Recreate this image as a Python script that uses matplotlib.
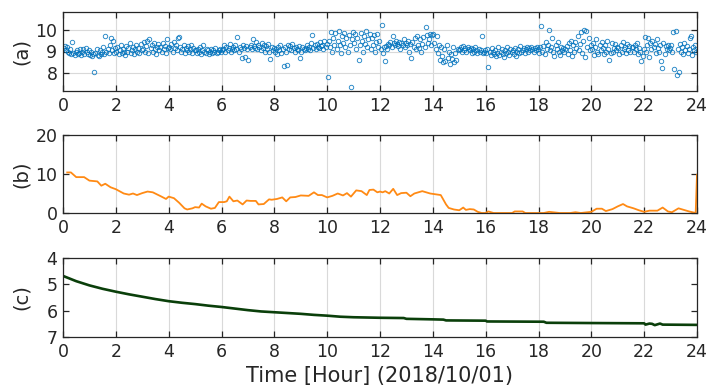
import numpy as np
import matplotlib
matplotlib.use("Agg")
import matplotlib.pyplot as plt

plt.rcParams['font.family'] = ['DejaVu Sans', 'Noto Sans CJK JP']

# ---- (a) scatter: 24 samples per hour ----
a_h00 = [9.15,9.25,9.05,9.2,9.0,8.95,9.1,8.9,9.45,8.95,8.85,9.0,9.05,8.9,8.95,9.1,8.85,9.0,9.1,8.9,9.15,9.0,8.9,9.05]
a_h01 = [8.85,9.0,8.8,8.9,8.05,8.95,9.1,8.85,8.8,9.05,8.9,9.0,9.2,8.9,9.7,9.0,9.1,8.95,9.3,9.6,9.05,9.5,8.95,9.15]
a_h02 = [9.0,9.2,8.9,9.05,9.3,8.95,9.1,9.0,8.85,9.25,9.0,9.15,9.4,8.95,9.05,9.2,8.9,9.1,9.3,9.0,9.15,8.95,9.35,9.05]
a_h03 = [9.1,9.45,9.0,9.25,9.5,8.95,9.55,9.15,9.3,9.0,9.4,9.1,8.9,9.2,9.35,9.05,9.2,9.0,9.4,9.1,9.25,8.95,9.55,9.15]
a_h04 = [9.2,9.1,9.35,9.0,9.45,9.15,9.3,9.05,9.6,9.65,9.2,9.0,9.1,9.3,8.95,9.15,9.05,9.25,9.0,9.1,9.3,8.95,9.15,9.05]
a_h05 = [9.05,8.95,9.1,9.0,9.2,8.9,9.05,9.3,9.0,8.95,9.1,9.05,8.9,9.0,9.1,8.95,9.05,9.0,9.15,8.95,9.0,9.05,9.1,9.0]
a_h06 = [9.05,9.1,9.3,9.0,9.2,9.05,9.15,9.35,9.0,9.1,9.2,9.05,9.3,9.1,9.65,9.0,9.2,9.1,8.7,9.3,9.15,8.75,9.25,9.1]
a_h07 = [8.6,9.2,9.3,9.1,9.55,9.25,9.15,9.45,9.1,9.3,9.2,9.05,9.4,9.15,9.3,9.0,9.25,9.1,9.35,9.0,8.65,9.2,9.05,9.15]
a_h08 = [9.0,9.1,8.9,9.2,9.05,9.3,8.95,9.1,8.35,9.2,9.0,8.4,9.3,9.1,9.25,9.05,9.35,9.15,9.0,9.2,9.1,9.05,9.25,8.7]
a_h09 = [9.0,9.2,9.1,9.05,9.15,9.3,9.1,9.2,9.05,9.4,9.75,9.15,9.3,9.1,9.35,9.2,9.15,9.45,9.25,9.3,9.1,9.5,9.2,9.35]
a_h10 = [7.85,9.5,9.2,9.9,9.0,9.6,9.3,9.85,9.1,9.5,9.95,9.3,8.95,9.7,9.4,9.85,9.2,9.6,9.0,9.75,9.3,7.4,9.55,9.9]
a_h11 = [9.4,9.8,9.1,9.6,8.6,9.3,9.85,9.5,9.0,9.7,9.35,9.95,9.2,9.55,9.8,9.1,9.6,9.3,9.75,9.0,9.45,9.8,9.2,9.5]
a_h12 = [9.1,10.2,8.95,9.2,8.55,9.25,9.1,9.35,9.3,9.45,9.2,9.7,9.4,9.3,9.5,9.35,9.25,9.45,9.1,9.4,9.3,9.55,9.2,9.4]
a_h13 = [9.3,9.5,9.0,9.35,8.7,9.45,9.2,9.6,9.1,9.7,9.3,9.15,9.55,9.0,9.35,9.65,9.2,10.1,9.75,9.4,9.55,9.8,9.3,9.75]
a_h14 = [9.8,9.4,9.1,9.7,8.95,9.3,8.6,9.2,8.8,8.5,9.1,8.55,9.3,8.7,9.0,8.45,8.9,8.65,9.2,8.5,8.95,8.6,9.1,9.05]
a_h15 = [9.1,9.2,9.0,9.25,9.05,9.15,9.0,9.2,9.1,9.05,9.15,8.95,9.1,9.0,9.2,9.05,8.95,9.1,9.0,9.05,9.7,8.95,9.0,9.05]
a_h16 = [8.95,9.1,8.3,9.0,8.85,9.15,9.0,8.9,9.05,8.8,8.95,9.2,8.85,9.0,9.1,8.9,8.75,9.05,8.95,9.2,9.0,8.85,9.1,9.0]
a_h17 = [9.05,8.9,9.15,8.8,9.0,9.1,8.95,9.25,9.0,9.05,9.15,8.95,9.1,9.2,9.0,9.15,9.05,9.2,9.1,9.0,9.15,9.05,9.2,9.1]
a_h18 = [8.95,9.2,10.15,9.0,9.25,8.9,9.45,9.1,9.3,10.0,9.05,9.2,9.6,9.0,8.8,9.3,9.1,9.45,9.0,8.85,9.2,9.05,9.15,9.0]
a_h19 = [9.1,9.25,8.9,9.4,9.05,9.5,8.8,9.3,9.0,9.45,9.15,9.7,9.05,9.35,9.9,8.95,9.5,10.0,8.75,9.95,9.2,9.6,9.05,9.3]
a_h20 = [9.1,9.4,8.85,9.2,9.55,9.0,8.9,9.3,9.05,9.45,9.15,8.9,9.3,9.0,9.5,9.1,8.6,8.95,9.4,9.0,9.15,9.35,9.05,9.2]
a_h21 = [9.15,8.9,9.3,9.0,9.45,9.1,9.2,8.95,9.35,9.05,9.25,9.0,9.2,9.2,9.0,9.3,9.1,9.4,8.9,9.15,9.0,8.55,8.8,9.1]
a_h22 = [9.65,9.0,9.3,9.6,8.75,9.4,9.1,9.5,9.2,9.35,8.95,9.55,9.15,9.0,9.3,8.55,8.25,9.4,8.9,9.25,9.1,9.3,9.05,9.15]
a_h23 = [9.3,9.0,9.9,8.2,9.95,7.95,9.1,8.05,9.35,9.0,9.2,8.9,9.4,9.05,9.25,8.95,9.1,9.6,9.7,8.85,9.2,9.05,9.3,9.0]
a_rows = [a_h00,a_h01,a_h02,a_h03,a_h04,a_h05,a_h06,a_h07,a_h08,a_h09,a_h10,a_h11,
          a_h12,a_h13,a_h14,a_h15,a_h16,a_h17,a_h18,a_h19,a_h20,a_h21,a_h22,a_h23]

# ---- (b) line ----
b_time = [0.16,0.3,0.5,0.8,1.0,1.3,1.45,1.6,1.8,2.0,2.3,2.5,2.65,2.8,3.0,3.2,3.4,3.7,3.9,4.0,
          4.2,4.4,4.6,4.7,4.9,5.0,5.15,5.25,5.4,5.6,5.75,5.9,6.1,6.2,6.3,6.45,6.6,6.8,6.95,7.1,
          7.3,7.4,7.6,7.8,7.9,8.1,8.3,8.45,8.6,8.8,9.0,9.3,9.5,9.65,9.8,10.0,10.2,10.4,10.6,10.75,
          10.9,11.1,11.3,11.5,11.6,11.75,11.9,12.0,12.1,12.2,12.35,12.5,12.65,12.8,13.0,13.15,13.3,13.6,13.9,14.1,
          14.3,14.5,14.6,14.8,15.0,15.15,15.25,15.4,15.55,15.7,15.85,16.0,16.1,16.3,16.6,17.0,17.1,17.4,17.5,18.0,
          18.2,18.4,18.8,19.2,19.4,19.6,20.0,20.2,20.4,20.55,20.8,21.0,21.2,21.35,21.6,21.8,22.0,22.2,22.5,22.7,
          22.9,23.05,23.3,23.5,23.7,23.95,24.0]
b_vals = [10.4,10.4,9.2,9.2,8.3,8.1,7.0,7.5,6.6,6.1,5.0,4.7,5.0,4.6,5.1,5.5,5.3,4.3,3.6,4.2,
          3.8,2.6,1.2,0.9,1.2,1.5,1.4,2.4,1.7,1.1,1.3,2.8,2.8,3.0,4.2,3.0,3.2,2.2,3.2,3.1,
          3.1,2.2,2.3,3.5,3.4,3.6,4.0,3.0,4.0,4.1,4.5,4.4,5.3,4.6,4.6,4.0,4.4,5.0,4.5,5.1,
          4.2,5.8,5.6,4.6,5.9,6.0,5.3,5.5,5.3,5.6,5.0,6.2,4.6,5.1,5.2,4.3,5.0,5.6,5.0,4.8,
          4.6,2.2,1.3,0.9,0.7,1.4,0.8,1.0,0.9,0.3,0.0,0.0,0.4,0.0,0.0,0.0,0.4,0.4,0.0,0.0,
          0.0,0.3,0.0,0.0,0.2,0.0,0.3,1.1,1.1,0.5,1.0,1.7,2.3,1.7,1.2,0.7,0.3,0.6,0.6,1.4,
          0.4,0.2,1.2,0.8,0.4,0.0,9.8]

# ---- (c) line (inverted axis) ----
c_time = [0.0,0.5,1.0,1.5,2.0,2.5,3.0,3.5,4.0,4.5,5.0,5.5,6.0,6.5,7.0,7.5,8.0,8.5,9.0,9.5,
          10.0,10.5,11.0,11.5,12.0,12.9,13.0,14.0,14.4,14.5,16.0,16.05,18.2,18.3,20.0,22.0,22.05,22.2,
          22.3,22.4,22.6,22.7,24.0]
c_vals = [4.68,4.88,5.04,5.17,5.28,5.38,5.47,5.56,5.64,5.70,5.75,5.81,5.86,5.92,5.98,6.03,6.06,6.09,6.12,6.16,
          6.19,6.23,6.25,6.26,6.27,6.28,6.31,6.33,6.34,6.37,6.38,6.41,6.42,6.46,6.47,6.48,6.53,6.49,
          6.50,6.55,6.49,6.53,6.54]

x_ticks = list(range(0, 25, 2))

fig = plt.figure(figsize=(7.09, 3.92), dpi=100)
L, R = 63/709, 697/709
def box(top, bottom):
    return [L, 1 - bottom/392, R - L, (bottom - top)/392]

axA = fig.add_axes(box(12, 91))
axB = fig.add_axes(box(135, 213))
axC = fig.add_axes(box(258, 337))

blue = '#0072BD'
for i, row in enumerate(a_rows):
    t = i + (np.arange(len(row)) + 0.5) / len(row)
    axA.plot(t, row, linestyle='none', marker='o', ms=3.2, mfc='none',
             mec=blue, mew=0.65, alpha=0.85)
axA.set_ylim(7.2, 10.8)
axA.set_yticks([8, 9, 10])
axA.grid(True, color='#d9d9d9', lw=0.8)

axB.plot(b_time, b_vals, color='#FF8A14', lw=1.3)
axB.set_ylim(0, 20)
axB.set_yticks([0, 10, 20])
axB.grid(True, axis='x', color='#d9d9d9', lw=0.8)

axC.plot(c_time, c_vals, color='#0a3f0a', lw=1.9)
axC.set_ylim(7, 4)
axC.set_yticks([4, 5, 6, 7])
axC.grid(True, axis='x', color='#d9d9d9', lw=0.8)

for ax, lab in zip([axA, axB, axC], ['(a)', '(b)', '(c)']):
    ax.set_xlim(0, 24)
    ax.set_xticks(x_ticks)
    ax.set_axisbelow(True)
    ax.tick_params(direction='in', top=True, right=True, length=4, width=0.9,
                   labelsize=12.5, colors='#262626', pad=4)
    for s in ax.spines.values():
        s.set_color('#262626')
        s.set_linewidth(0.9)
    ax.set_ylabel(lab, fontsize=14, color='#262626')
    ax.yaxis.set_label_coords(-0.05, 0.5)

axC.set_xlabel('Time [Hour] (2018/10/01)', fontsize=15, color='#262626', labelpad=4)

fig.savefig('out.png', dpi=100)
